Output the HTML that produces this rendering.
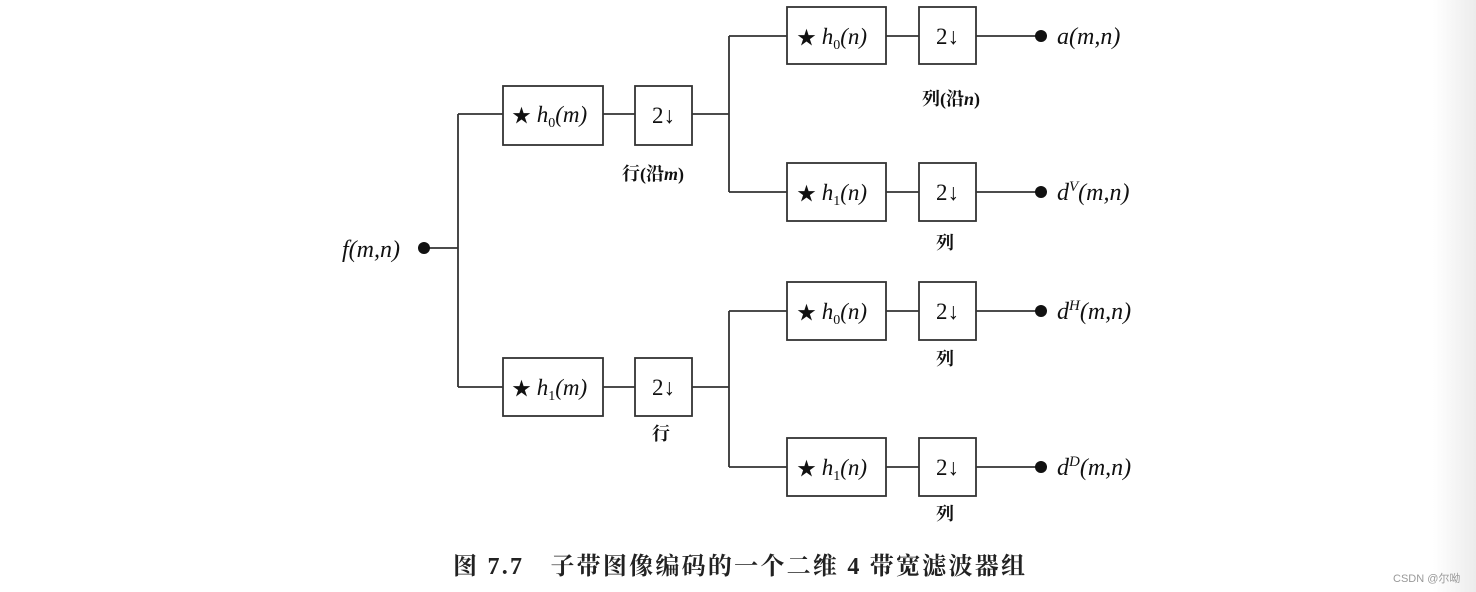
<!DOCTYPE html>
<html><head><meta charset="utf-8"><style>
html,body{margin:0;padding:0;background:#fff}
svg{display:block}
.m{font-family:"Liberation Serif","Noto Serif CJK SC",serif;font-size:23px;fill:#111}
.o{font-size:24px}
.s{font-size:19px}
.c{font-family:"Liberation Serif","Noto Serif CJK SC","Noto Sans CJK SC",serif;font-size:18px;fill:#111;font-weight:bold}
</style></head><body>
<svg width="1476" height="592" viewBox="0 0 1476 592" xmlns="http://www.w3.org/2000/svg">
<defs><linearGradient id="g" x1="0" x2="1"><stop offset="0" stop-color="#fff"/><stop offset="1" stop-color="#ececec"/></linearGradient></defs>
<rect x="1433" y="0" width="43" height="592" fill="url(#g)"/>
<g stroke="#333" stroke-width="1.8" fill="none">
<line x1="424" y1="248" x2="458" y2="248"/>
<line x1="458" y1="114" x2="458" y2="387"/>
<line x1="458" y1="114" x2="503" y2="114"/>
<line x1="458" y1="387" x2="503" y2="387"/>
<rect x="503" y="86" width="100" height="59"/>
<rect x="635" y="86" width="57" height="59"/>
<line x1="603" y1="114" x2="635" y2="114"/>
<line x1="692" y1="114" x2="729" y2="114"/>
<rect x="503" y="358" width="100" height="58"/>
<rect x="635" y="358" width="57" height="58"/>
<line x1="603" y1="387" x2="635" y2="387"/>
<line x1="692" y1="387" x2="729" y2="387"/>
<line x1="729" y1="36" x2="729" y2="192"/>
<line x1="729" y1="311" x2="729" y2="467"/>
<line x1="729" y1="36" x2="787" y2="36"/>
<line x1="729" y1="192" x2="787" y2="192"/>
<line x1="729" y1="311" x2="787" y2="311"/>
<line x1="729" y1="467" x2="787" y2="467"/>
<rect x="787" y="7" width="99" height="57"/><rect x="919" y="7" width="57" height="57"/>
<rect x="787" y="163" width="99" height="58"/><rect x="919" y="163" width="57" height="58"/>
<rect x="787" y="282" width="99" height="58"/><rect x="919" y="282" width="57" height="58"/>
<rect x="787" y="438" width="99" height="58"/><rect x="919" y="438" width="57" height="58"/>
<line x1="886" y1="36" x2="919" y2="36"/><line x1="976" y1="36" x2="1041" y2="36"/>
<line x1="886" y1="192" x2="919" y2="192"/><line x1="976" y1="192" x2="1041" y2="192"/>
<line x1="886" y1="311" x2="919" y2="311"/><line x1="976" y1="311" x2="1041" y2="311"/>
<line x1="886" y1="467" x2="919" y2="467"/><line x1="976" y1="467" x2="1041" y2="467"/>
</g>
<g fill="#111">
<circle cx="424" cy="248" r="6"/>
<circle cx="1041" cy="36" r="6"/><circle cx="1041" cy="192" r="6"/>
<circle cx="1041" cy="311" r="6"/><circle cx="1041" cy="467" r="6"/>
</g>
<g class="m">
<text x="342" y="257" class="o" font-style="italic">f(m,n)</text>
<text x="512" y="122"><tspan class="s">★</tspan> <tspan font-style="italic">h</tspan><tspan font-size="14" dy="5">0</tspan><tspan dy="-5" font-style="italic">(m)</tspan></text>
<text x="512" y="395"><tspan class="s">★</tspan> <tspan font-style="italic">h</tspan><tspan font-size="14" dy="5">1</tspan><tspan dy="-5" font-style="italic">(m)</tspan></text>
<text x="797" y="44"><tspan class="s">★</tspan> <tspan font-style="italic">h</tspan><tspan font-size="14" dy="5">0</tspan><tspan dy="-5" font-style="italic">(n)</tspan></text>
<text x="797" y="200"><tspan class="s">★</tspan> <tspan font-style="italic">h</tspan><tspan font-size="14" dy="5">1</tspan><tspan dy="-5" font-style="italic">(n)</tspan></text>
<text x="797" y="319"><tspan class="s">★</tspan> <tspan font-style="italic">h</tspan><tspan font-size="14" dy="5">0</tspan><tspan dy="-5" font-style="italic">(n)</tspan></text>
<text x="797" y="475"><tspan class="s">★</tspan> <tspan font-style="italic">h</tspan><tspan font-size="14" dy="5">1</tspan><tspan dy="-5" font-style="italic">(n)</tspan></text>
<text x="652" y="123">2↓</text><text x="652" y="395">2↓</text>
<text x="936" y="44">2↓</text><text x="936" y="200">2↓</text>
<text x="936" y="319">2↓</text><text x="936" y="475">2↓</text>
<text x="1057" y="44" class="o" font-style="italic">a(m,n)</text>
<text x="1057" y="200" class="o" font-style="italic">d<tspan font-size="15" dy="-9">V</tspan><tspan dy="9">(m,n)</tspan></text>
<text x="1057" y="319" class="o" font-style="italic">d<tspan font-size="15" dy="-9">H</tspan><tspan dy="9">(m,n)</tspan></text>
<text x="1057" y="475" class="o" font-style="italic">d<tspan font-size="15" dy="-9">D</tspan><tspan dy="9">(m,n)</tspan></text>
</g>
<g class="c">
<text x="622" y="180">行(沿<tspan font-style="italic">m</tspan>)</text>
<text x="922" y="105">列(沿<tspan font-style="italic">n</tspan>)</text>
<text x="936" y="249">列</text>
<text x="936" y="365">列</text>
<text x="936" y="520">列</text>
<text x="652" y="440">行</text>
</g>
<text x="453" y="574" font-size="24" fill="#222" font-weight="bold" style="font-family:'Liberation Serif','Noto Serif CJK SC',serif" textLength="572">图 7.7　子带图像编码的一个二维 4 带宽滤波器组</text>
<text x="1393" y="582" style="font-family:'Liberation Sans','Noto Sans CJK SC',sans-serif" font-size="11" fill="#999">CSDN @尔呦</text>
</svg>
</body></html>
